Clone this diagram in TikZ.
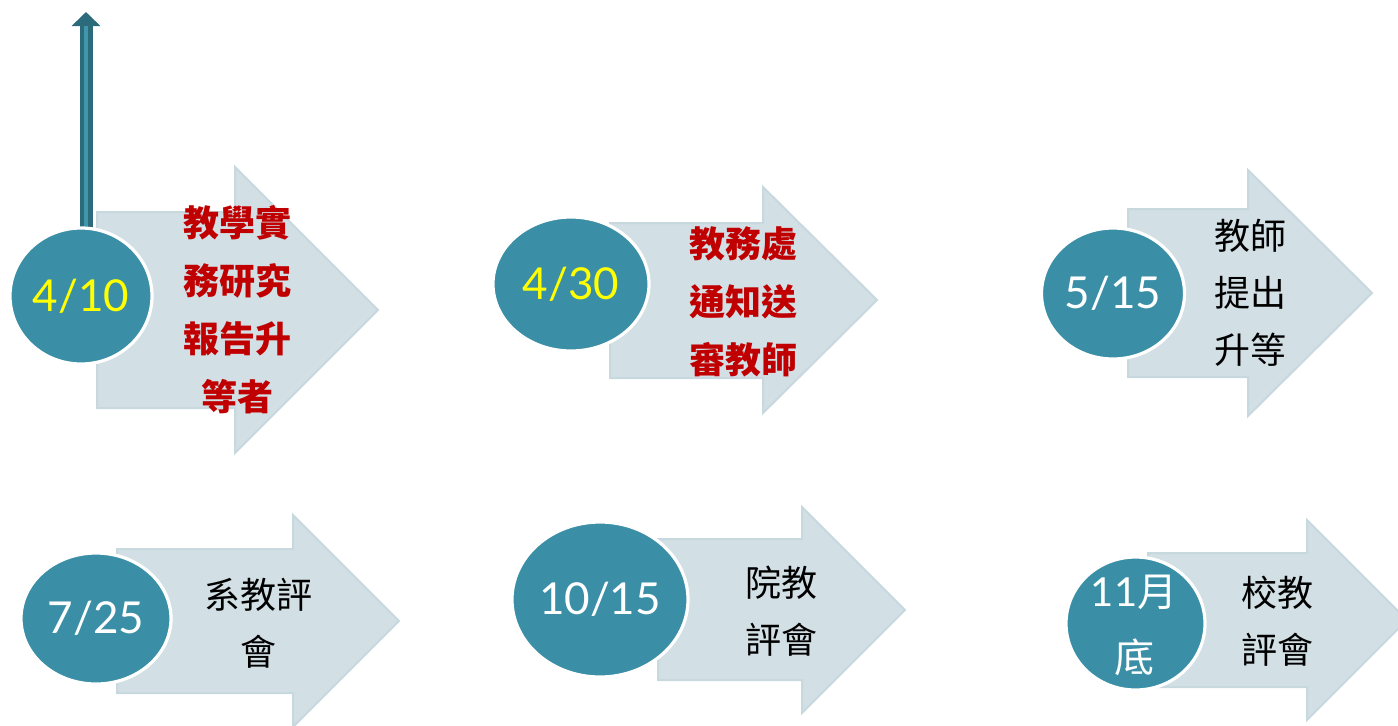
\documentclass[tikz,border=0pt]{standalone}
\usepackage{fontspec}
\usetikzlibrary{shapes.geometric,arrows.meta}
\newfontfamily\cjk{Noto Sans CJK TC}
\newfontfamily\datefont{Lato}
\definecolor{arrowfill}{HTML}{D2DFE5}
\definecolor{arrowedge}{HTML}{C8D8DF}
\definecolor{circfill}{HTML}{3A8FA6}
\definecolor{redtext}{HTML}{C00000}
\definecolor{darkstem}{HTML}{2B6B7C}
\definecolor{lightstem}{HTML}{4296AB}
\definecolor{dateyellow}{HTML}{FFFF00}
\begin{document}
\begin{tikzpicture}[x=0.5pt,y=-0.5pt,
  blockarrow/.style={fill=arrowfill, draw=arrowedge, line width=1pt, line join=miter},
  datecirc/.style={ellipse, fill=circfill, draw=white, line width=1.6pt, inner sep=0pt, text=white,
    font=\datefont\fontsize{22}{24}\selectfont},
  redlbl/.style={font=\cjk\bfseries\fontsize{18}{29}\selectfont, text=redtext, align=center, inner sep=0pt},
  blklbl/.style={font=\cjk\fontsize{18}{28.5}\selectfont, text=black, align=center, inner sep=0pt},
  stemouter/.style={line width=6.5pt, draw=darkstem, -{Triangle[length=7pt,width=14pt]}},
  steminner/.style={line width=2.2pt, draw=lightstem}
]
\path[use as bounding box] (0,0) rectangle (1398,725);
\begin{scope}
\clip (0,0) rectangle (1398,725);
% block arrows
\draw[blockarrow] (97,212) -- (235,212) -- (235,167) -- (378,310) -- (235,453) -- (235,408) -- (97,408) -- cycle;
\draw[blockarrow] (610,223) -- (763,223) -- (763,187) -- (877,300) -- (763,413) -- (763,378) -- (610,378) -- cycle;
\draw[blockarrow] (1128,209) -- (1248,209) -- (1248,170) -- (1372,293) -- (1248,416) -- (1248,377) -- (1128,377) -- cycle;
\draw[blockarrow] (117,549) -- (293,549) -- (293,515) -- (399,621) -- (293,727) -- (293,693) -- (117,693) -- cycle;
\draw[blockarrow] (658,539) -- (802,539) -- (802,507) -- (905,610) -- (802,713) -- (802,680) -- (658,680) -- cycle;
\draw[blockarrow] (1148,553) -- (1307,553) -- (1307,520) -- (1407,620) -- (1307,720) -- (1307,687) -- (1148,687) -- cycle;
\end{scope}

% vertical arrow from first circle
\coordinate (up) at (86,12);
\coordinate (stembase) at (86,232);
\draw[stemouter] (stembase) -- (up);
\draw[steminner] (stembase) -- ([yshift=-7pt]up);

% circles
\node[datecirc, text=dateyellow, minimum width=71pt, minimum height=68pt] (c1) at (81,296) {4/10};
\node[datecirc, text=dateyellow, minimum width=78pt, minimum height=67pt] (c2) at (571,284) {4/30};
\node[datecirc, minimum width=71.5pt, minimum height=65.5pt] (c3) at (1113,293.5) {5/15};
\node[datecirc, minimum width=75pt, minimum height=65.5pt] (c4) at (96,618.5) {7/25};
\node[datecirc, minimum width=88pt, minimum height=77.5pt] (c5) at (600,599.5) {10/15};
\node[datecirc, minimum width=69.5pt, minimum height=66.5pt] (c6) at (1135.5,623.5) {};
\node[font=\fontsize{20}{33}\selectfont, text=white, align=center, inner sep=0pt] (c6t) at (1134,625)
  {{\datefont 11}{\cjk 月}\\{\cjk 底}};

% labels
\node[redlbl] (t1) at (237,310) {教學實\\務研究\\報告升\\等者};
\node[redlbl] (t2) at (743,302) {教務處\\通知送\\審教師};
\node[blklbl] (t3) at (1250,293) {教師\\提出\\升等};
\node[blklbl] (t4) at (258,623) {系教評\\會};
\node[blklbl] (t5) at (781,611) {院教\\評會};
\node[blklbl] (t6) at (1277,621) {校教\\評會};
\end{tikzpicture}
\end{document}
